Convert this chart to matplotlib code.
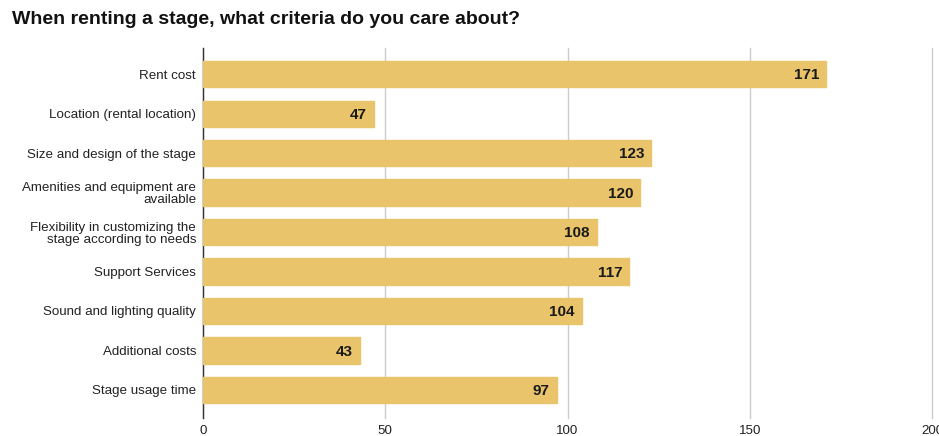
import matplotlib
matplotlib.use("Agg")
import matplotlib.pyplot as plt

plt.rcParams['font.family'] = ['Liberation Sans', 'DejaVu Sans']

categories = [
    "Rent cost",
    "Location (rental location)",
    "Size and design of the stage",
    "Amenities and equipment are\navailable",
    "Flexibility in customizing the\nstage according to needs",
    "Support Services",
    "Sound and lighting quality",
    "Additional costs",
    "Stage usage time",
]
values = [171, 47, 123, 120, 108, 117, 104, 43, 97]
x_ticks = [0, 50, 100, 150, 200]

bar_color = "#E9C46A"

fig = plt.figure(figsize=(9.39, 4.36), dpi=100)
ax = fig.add_axes([0.2162, 0.0413, 0.7764, 0.8486])

pos = list(range(len(categories)))
ax.barh(pos, values, height=0.66, color=bar_color, edgecolor=bar_color,
        linewidth=1.0, joinstyle="round", zorder=3)

for y, v in zip(pos, values):
    ax.text(v - 2.0, y + 0.03, str(v), ha="right", va="center", fontsize=11,
            fontweight="bold", color="#1a1a1a", zorder=4)

ax.set_xlim(0, 200)
ax.set_ylim(8.71, -0.66)
ax.set_xticks(x_ticks)
ax.set_xticklabels([str(t) for t in x_ticks])
ax.set_yticks(pos)
ax.set_yticklabels(categories, fontsize=9.6, color="#222222", linespacing=1.05)

ax.grid(axis="x", color="#cccccc", linewidth=1.0, zorder=0)
for gl in ax.get_xgridlines():
    gl.set_clip_on(False)
ax.set_axisbelow(True)
for s in ["top", "right", "bottom"]:
    ax.spines[s].set_visible(False)
ax.spines["left"].set_color("#333333")
ax.spines["left"].set_linewidth(1.0)
ax.tick_params(axis="both", length=0)
ax.tick_params(axis="x", labelsize=9.6, labelcolor="#222222", pad=5)
ax.tick_params(axis="y", pad=5)

fig.text(0.013, 0.955, "When renting a stage, what criteria do you care about?",
         fontsize=14, fontweight="bold", color="#111111", ha="left", va="center")

fig.savefig("out.png", dpi=100)
